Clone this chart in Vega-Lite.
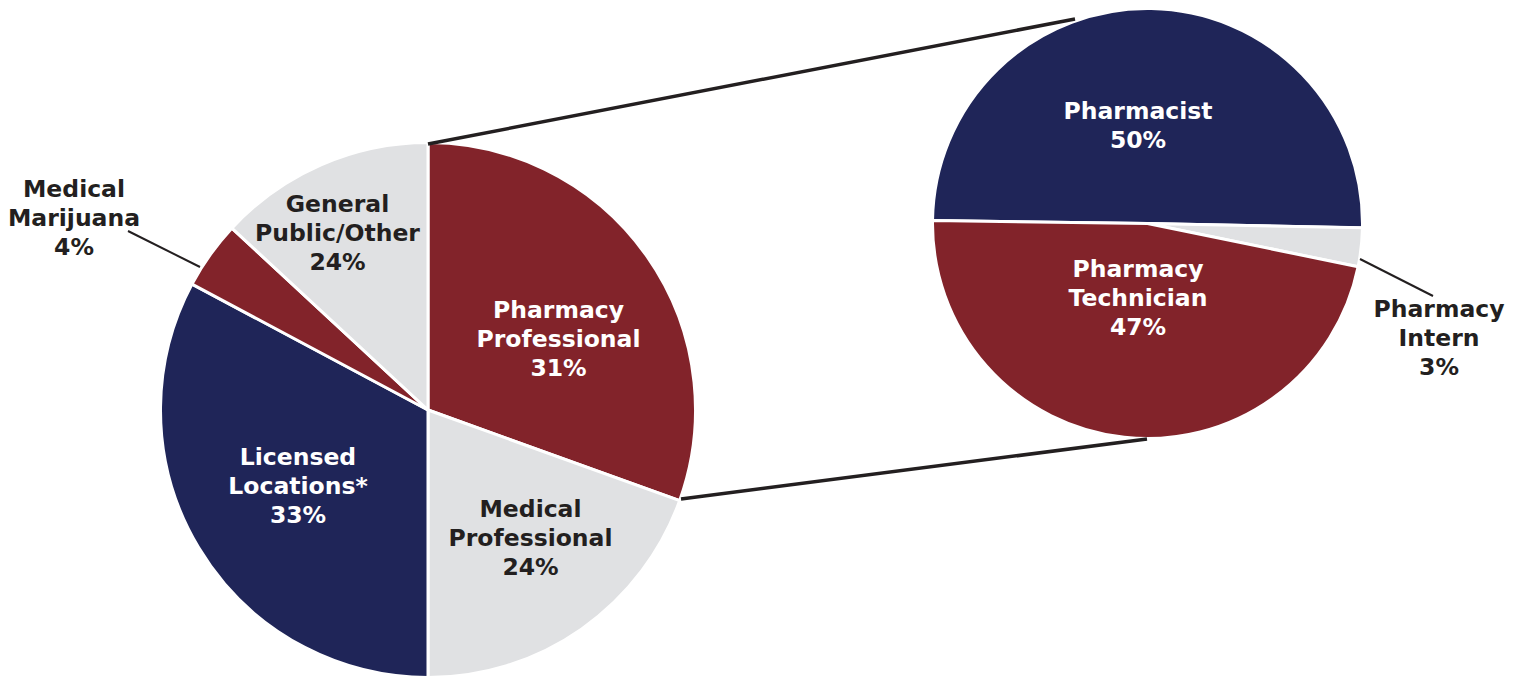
{
  "$schema": "https://vega.github.io/schema/vega-lite/v6.json",
  "width": 1521,
  "height": 677,
  "padding": 0,
  "autosize": {"type": "none"},
  "background": "white",
  "config": {
    "view": {"stroke": null},
    "axis": {"disable": true},
    "text": {"font": "DejaVu Sans", "fontWeight": "bold", "fontSize": 23.5, "lineHeight": 29, "align": "center", "baseline": "alphabetic", "lineBreak": "\n"}
  },
  "datasets": {
    "slices": [
      {"pie": "main", "k": 1, "name": "Pharmacy Professional", "share": 30.5, "label": "Pharmacy\nProfessional\n31%"},
      {"pie": "main", "k": 2, "name": "Medical Professional", "share": 19.5, "label": "Medical\nProfessional\n24%"},
      {"pie": "main", "k": 3, "name": "Licensed Locations*", "share": 32.8, "label": "Licensed\nLocations*\n33%"},
      {"pie": "main", "k": 4, "name": "Medical Marijuana", "share": 4.1, "label": "Medical\nMarijuana\n4%"},
      {"pie": "main", "k": 5, "name": "General Public/Other", "share": 13.1, "label": "General\nPublic/Other\n24%"},
      {"pie": "detail", "k": 1, "name": "Pharmacist", "share": 50.1, "label": "Pharmacist\n50%"},
      {"pie": "detail", "k": 2, "name": "Pharmacy Intern", "share": 2.9, "label": "Pharmacy\nIntern\n3%"},
      {"pie": "detail", "k": 3, "name": "Pharmacy Technician", "share": 47.0, "label": "Pharmacy\nTechnician\n47%"}
    ]
  },
  "resolve": {"scale": {"theta": "independent"}},
  "layer": [
    {
      "data": {"name": "slices"},
      "transform": [
        {"filter": "datum.pie === 'main'"},
        {"stack": "share", "groupby": ["pie"], "sort": [{"field": "k"}], "as": ["t0", "t1"]}
      ],
      "mark": {"type": "arc", "outerRadius": 267.5, "stroke": "white", "strokeWidth": 3},
      "encoding": {
        "x": {"datum": 428, "type": "quantitative", "scale": {"domain": [0, 1521], "nice": false, "zero": false}, "axis": null},
        "y": {"datum": 410, "type": "quantitative", "scale": {"domain": [0, 677], "nice": false, "zero": false, "reverse": true}, "axis": null},
        "theta": {"field": "t0", "type": "quantitative", "scale": {"domain": [0, 100], "range": [0, 6.28319], "zero": true, "nice": false}},
        "theta2": {"field": "t1"},
        "color": {
          "field": "name", "type": "nominal", "legend": null,
          "scale": {
            "domain": ["Pharmacy Professional", "Medical Professional", "Licensed Locations*", "Medical Marijuana", "General Public/Other", "Pharmacist", "Pharmacy Intern", "Pharmacy Technician"],
            "range": ["#82232A", "#E0E1E3", "#1F2558", "#82232A", "#E0E1E3", "#1F2558", "#E0E1E3", "#82232A"]
          }
        }
      }
    },
    {
      "data": {"name": "slices"},
      "transform": [
        {"filter": "datum.pie === 'detail'"},
        {"stack": "share", "groupby": ["pie"], "sort": [{"field": "k"}], "as": ["t0", "t1"]}
      ],
      "mark": {"type": "arc", "outerRadius": 215, "stroke": "white", "strokeWidth": 3},
      "encoding": {
        "x": {"datum": 1147.5, "type": "quantitative", "axis": null},
        "y": {"datum": 223.5, "type": "quantitative", "axis": null},
        "theta": {"field": "t0", "type": "quantitative", "scale": {"domain": [0, 100], "range": [4.7264, 11.00958], "zero": true, "nice": false}},
        "theta2": {"field": "t1"},
        "color": {"field": "name", "type": "nominal", "legend": null}
      }
    },
    {
      "data": {"values": [{}]},
      "mark": {"type": "rule", "color": "#231F20", "strokeWidth": 3.5},
      "encoding": {
        "x": {"datum": 428, "type": "quantitative", "axis": null},
        "y": {"datum": 144, "type": "quantitative", "axis": null},
        "x2": {"datum": 1075},
        "y2": {"datum": 19}
      }
    },
    {
      "data": {"values": [{}]},
      "mark": {"type": "rule", "color": "#231F20", "strokeWidth": 3.5},
      "encoding": {
        "x": {"datum": 681, "type": "quantitative", "axis": null},
        "y": {"datum": 499, "type": "quantitative", "axis": null},
        "x2": {"datum": 1147},
        "y2": {"datum": 439}
      }
    },
    {
      "data": {"values": [{}]},
      "mark": {"type": "rule", "color": "#231F20", "strokeWidth": 2},
      "encoding": {
        "x": {"datum": 128, "type": "quantitative", "axis": null},
        "y": {"datum": 231, "type": "quantitative", "axis": null},
        "x2": {"datum": 200},
        "y2": {"datum": 267}
      }
    },
    {
      "data": {"values": [{}]},
      "mark": {"type": "rule", "color": "#231F20", "strokeWidth": 2},
      "encoding": {
        "x": {"datum": 1360, "type": "quantitative", "axis": null},
        "y": {"datum": 259, "type": "quantitative", "axis": null},
        "x2": {"datum": 1433},
        "y2": {"datum": 296}
      }
    },
    {
      "data": {"name": "slices"},
      "transform": [{"filter": "datum.name === 'Pharmacy Professional'"}],
      "mark": {"type": "text", "color": "white"},
      "encoding": {
        "x": {"datum": 558.5, "type": "quantitative", "axis": null},
        "y": {"datum": 318, "type": "quantitative", "axis": null},
        "text": {"field": "label"}
      }
    },
    {
      "data": {"name": "slices"},
      "transform": [{"filter": "datum.name === 'Medical Professional'"}],
      "mark": {"type": "text", "color": "#231F20"},
      "encoding": {
        "x": {"datum": 530.5, "type": "quantitative", "axis": null},
        "y": {"datum": 517, "type": "quantitative", "axis": null},
        "text": {"field": "label"}
      }
    },
    {
      "data": {"name": "slices"},
      "transform": [{"filter": "datum.name === 'Licensed Locations*'"}],
      "mark": {"type": "text", "color": "white"},
      "encoding": {
        "x": {"datum": 298, "type": "quantitative", "axis": null},
        "y": {"datum": 465, "type": "quantitative", "axis": null},
        "text": {"field": "label"}
      }
    },
    {
      "data": {"name": "slices"},
      "transform": [{"filter": "datum.name === 'Medical Marijuana'"}],
      "mark": {"type": "text", "color": "#231F20"},
      "encoding": {
        "x": {"datum": 74, "type": "quantitative", "axis": null},
        "y": {"datum": 197, "type": "quantitative", "axis": null},
        "text": {"field": "label"}
      }
    },
    {
      "data": {"name": "slices"},
      "transform": [{"filter": "datum.name === 'General Public/Other'"}],
      "mark": {"type": "text", "color": "#231F20"},
      "encoding": {
        "x": {"datum": 337.5, "type": "quantitative", "axis": null},
        "y": {"datum": 212, "type": "quantitative", "axis": null},
        "text": {"field": "label"}
      }
    },
    {
      "data": {"name": "slices"},
      "transform": [{"filter": "datum.name === 'Pharmacist'"}],
      "mark": {"type": "text", "color": "white"},
      "encoding": {
        "x": {"datum": 1138, "type": "quantitative", "axis": null},
        "y": {"datum": 119, "type": "quantitative", "axis": null},
        "text": {"field": "label"}
      }
    },
    {
      "data": {"name": "slices"},
      "transform": [{"filter": "datum.name === 'Pharmacy Technician'"}],
      "mark": {"type": "text", "color": "white"},
      "encoding": {
        "x": {"datum": 1138, "type": "quantitative", "axis": null},
        "y": {"datum": 277, "type": "quantitative", "axis": null},
        "text": {"field": "label"}
      }
    },
    {
      "data": {"name": "slices"},
      "transform": [{"filter": "datum.name === 'Pharmacy Intern'"}],
      "mark": {"type": "text", "color": "#231F20"},
      "encoding": {
        "x": {"datum": 1439, "type": "quantitative", "axis": null},
        "y": {"datum": 317, "type": "quantitative", "axis": null},
        "text": {"field": "label"}
      }
    }
  ]
}
